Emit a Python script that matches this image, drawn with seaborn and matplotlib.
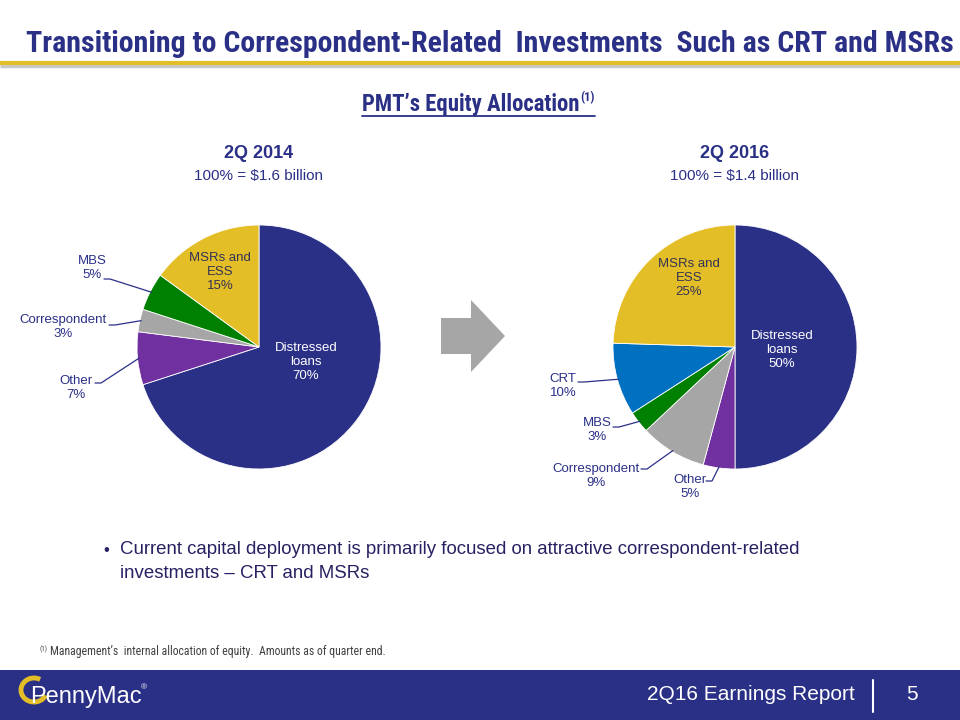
import matplotlib
matplotlib.use("Agg")
import matplotlib.pyplot as plt
import seaborn as sns
import numpy as np
from matplotlib import font_manager
from matplotlib.patches import Rectangle, Polygon, Arc

# ---------------- data ----------------
cats_2014 = ["Distressed loans", "Other", "Correspondent", "MBS", "MSRs and ESS"]
share_2014 = [70, 7, 3, 5, 15]
pct_2014 = ["70%", "7%", "3%", "5%", "15%"]

cats_2016 = ["Distressed loans", "Other", "Correspondent", "MBS", "CRT", "MSRs and ESS"]
share_2016 = [50, 4.2, 8.8, 2.9, 9.6, 24.5]
pct_2016 = ["50%", "5%", "9%", "3%", "10%", "25%"]

period_titles = ["2Q 2014", "2Q 2016"]
period_totals = ["100% = $1.6 billion", "100% = $1.4 billion"]

title_text = "Transitioning to Correspondent-Related  Investments  Such as CRT and MSRs"
subtitle_text = "PMT\u2019s Equity Allocation"
bullet_lines = ["Current capital deployment is primarily focused on attractive correspondent-related",
                "investments \u2013 CRT and MSRs"]
footnote_text = "Management\u2019s  internal allocation of equity.  Amounts as of quarter end."
footer_text = "2Q16 Earnings Report"
page_no = "5"

colors = {"Distressed loans": "#2B3087", "Other": "#7030A0", "Correspondent": "#A6A6A6",
          "MBS": "#008000", "CRT": "#0070C0", "MSRs and ESS": "#E4BE27"}

NAVY = "#2B3087"
GOLD = "#E4BE27"

sns.set_theme(style="white")


def has_font(name):
    try:
        font_manager.findfont(font_manager.FontProperties(family=name), fallback_to_default=False)
        return True
    except Exception:
        return False


NARROW = "Liberation Sans"
for cand in ["Liberation Sans Narrow", "Roboto Condensed", "Open Sans Condensed", "DejaVu Sans Condensed"]:
    if has_font(cand):
        NARROW = cand
        break

plt.rcParams['font.family'] = ['Liberation Sans', 'DejaVu Sans']

fig = plt.figure(figsize=(9.6, 7.2), dpi=100)
bg = fig.add_axes([0, 0, 1, 1])
bg.set_xlim(0, 960)
bg.set_ylim(720, 0)
bg.axis('off')
r = fig.canvas.get_renderer()

# ---------------- header ----------------
t = bg.text(490, 44, title_text, ha='center', va='center', fontsize=18, fontweight='bold',
            color=NAVY, family=[NARROW, 'DejaVu Sans'])
fig.canvas.draw()
w = t.get_window_extent(r).width
t.set_fontsize(18 * 925 / w)

bg.plot([0, 960], [66, 66], color="#C8C8C8", lw=2.5, solid_capstyle='butt')
bg.plot([0, 960], [63, 63], color=GOLD, lw=3, solid_capstyle='butt')

# subtitle with superscript and underline
sub_size = 15.5
st = bg.text(362, 105, subtitle_text, ha='left', va='center', fontsize=sub_size, fontweight='bold',
             color=NAVY, family=[NARROW, 'DejaVu Sans'])
fig.canvas.draw()
sw = st.get_window_extent(r).width
sub_size = sub_size * 218 / sw
st.set_fontsize(sub_size)
fig.canvas.draw()
x_end = st.get_window_extent(r).x1
sup = bg.text(x_end + 1, 98, "(1)", ha='left', va='center', fontsize=9, fontweight='bold',
              color=NAVY, family=[NARROW, 'DejaVu Sans'])
fig.canvas.draw()
x_end2 = sup.get_window_extent(r).x1
bg.plot([362, x_end2], [116, 116], color=NAVY, lw=1.3)

# ---------------- pies ----------------
R = 122.0


def make_pie(cx, cy, x0, x1, y0, y1, cats, shares):
    ax = fig.add_axes([x0 / 960, 1 - y1 / 720, (x1 - x0) / 960, (y1 - y0) / 720])
    wedges, _ = ax.pie(shares, colors=[colors[c] for c in cats], startangle=90,
                       counterclock=False, radius=1.0,
                       wedgeprops=dict(linewidth=0.6, edgecolor='white'))
    ax.set_xlim((x0 - cx) / R, (x1 - cx) / R)
    ax.set_ylim((cy - y1) / R, (cy - y0) / R)
    ax.set_aspect('equal')
    ax.axis('off')

    def p2d(x, y):
        return (x - cx) / R, (cy - y) / R
    return ax, wedges, p2d


def label_inside(ax, p2d, px, py, text, color):
    ax.text(*p2d(px, py), text, ha='center', va='center', fontsize=9.5, color=color,
            linespacing=1.25)


def label_outside(ax, p2d, wedge, px, py, text, ax_px, ay_px):
    ax.text(*p2d(px, py), text, ha='center', va='center', fontsize=9.5, color=NAVY,
            linespacing=1.25)
    mid = np.deg2rad((wedge.theta1 + wedge.theta2) / 2)
    ex, ey = np.cos(mid) * 0.99, np.sin(mid) * 0.99
    a = p2d(ax_px, ay_px)
    b = p2d(ax_px + 6, ay_px)
    ax.plot([a[0], b[0], ex], [a[1], b[1], ey], color=NAVY, lw=0.9)


def lbl(cat, pct):
    return cat.replace("Distressed loans", "Distressed\nloans").replace("MSRs and ESS", "MSRs and\nESS") + "\n" + pct


# pie 2014
ax1, w1, p1 = make_pie(259, 347, 20, 400, 205, 510, cats_2014, share_2014)
label_inside(ax1, p1, 306, 362, lbl(cats_2014[0], pct_2014[0]), "white")
label_inside(ax1, p1, 220, 272, lbl(cats_2014[4], pct_2014[4]), "#333355")
label_outside(ax1, p1, w1[1], 76, 388, lbl(cats_2014[1], pct_2014[1]), 95, 383)
label_outside(ax1, p1, w1[2], 63, 327, lbl(cats_2014[2], pct_2014[2]), 109, 325)
label_outside(ax1, p1, w1[3], 92, 268, lbl(cats_2014[3], pct_2014[3]), 104, 279)

# pie 2016
ax2, w2, p2 = make_pie(735, 347, 520, 900, 205, 510, cats_2016, share_2016)
label_inside(ax2, p2, 782, 350, lbl(cats_2016[0], pct_2016[0]), "white")
label_inside(ax2, p2, 689, 278, lbl(cats_2016[5], pct_2016[5]), "#333355")
label_outside(ax2, p2, w2[1], 690, 487, lbl(cats_2016[1], pct_2016[1]), 706, 481)
label_outside(ax2, p2, w2[2], 596, 476, lbl(cats_2016[2], pct_2016[2]), 641, 469)
label_outside(ax2, p2, w2[3], 597, 430, lbl(cats_2016[3], pct_2016[3]), 613, 427)
label_outside(ax2, p2, w2[4], 563, 386, lbl(cats_2016[4], pct_2016[4]), 578, 382)

# period headings
for cx, ttl, tot in zip([259, 735], period_titles, period_totals):
    bg.text(cx, 153, ttl, ha='center', va='center', fontsize=13, fontweight='bold', color=NAVY)
    bg.text(cx, 176, tot, ha='center', va='center', fontsize=11, color=NAVY)

# arrow between pies
bg.add_patch(Polygon([(441, 318), (471, 318), (471, 300), (505, 336), (471, 372), (471, 354), (441, 354)],
                     closed=True, facecolor="#A6A6A6", edgecolor='none'))

# bullet text
TXT = "#262262"
bg.text(103, 550, "\u2022", ha='left', va='center', fontsize=12, color=TXT)
b1 = bg.text(120, 550, bullet_lines[0], ha='left', va='center', fontsize=13, color=TXT)
fig.canvas.draw()
bw = b1.get_window_extent(r).width
bsize = 13 * 683 / bw
b1.set_fontsize(bsize)
bg.text(120, 573, bullet_lines[1], ha='left', va='center', fontsize=bsize, color=TXT)

# footnote
bg.text(40, 649, "(1)", ha='left', va='center', fontsize=5, color="#404040", family=[NARROW, 'DejaVu Sans'])
bg.text(50, 652, footnote_text, ha='left', va='center', fontsize=8.5, color="#404040",
        family=[NARROW, 'DejaVu Sans'])

# footer band
bg.add_patch(Rectangle((0, 670), 960, 50, facecolor=NAVY, edgecolor='none'))
bg.text(855, 694, footer_text, ha='right', va='center', fontsize=15, color='white')
bg.plot([873, 873], [680, 712], color='white', lw=1.5)
bg.text(912, 694, page_no, ha='center', va='center', fontsize=15, color='white')

# logo
bg.add_patch(Arc((34, 690), 26, 24, theta1=25, theta2=300, color=GOLD, lw=3.5))
bg.text(30, 697, "PennyMac", ha='left', va='center', fontsize=17, color='white')
bg.text(141, 688, "\u00ae", ha='left', va='center', fontsize=6, color='white')

fig.savefig("out.png", dpi=100, facecolor='white')
